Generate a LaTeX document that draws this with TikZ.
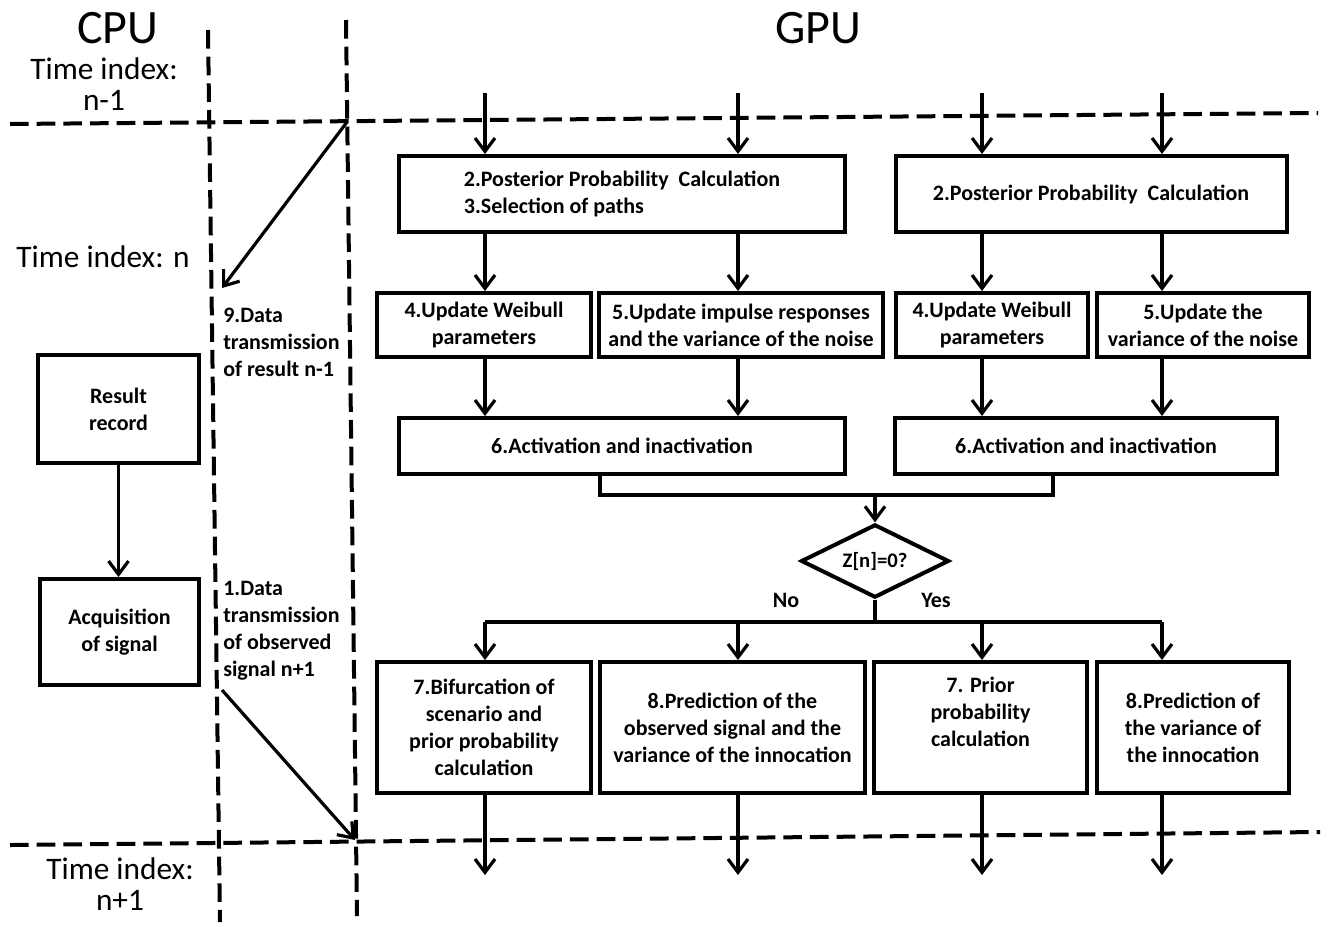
\documentclass[tikz,border=0pt]{standalone}
\usepackage{fontspec}
\setmainfont{Carlito}
\usepackage{tikz}
\usetikzlibrary{positioning,shapes.geometric,arrows.meta}

\begin{document}
\begin{tikzpicture}[x=0.75pt,y=0.75pt,yscale=-1,xscale=1,
  box/.style={draw,line width=3pt,font=\bfseries\fontsize{16.5}{20.25}\selectfont,align=center,inner sep=2pt},
  arr/.style={line width=2.4pt,-{Straight Barb[length=10pt,width=15pt]}},
  wire/.style={line width=2.4pt},
  timeline/.style={line width=3pt,dash pattern=on 14pt off 6pt},
  big/.style={font=\fontsize{36}{40}\selectfont},
  tindex/.style={font=\fontsize{23.5}{26}\selectfont,inner sep=0pt,anchor=base},
  note/.style={font=\bfseries\fontsize{16.5}{20.25}\selectfont,align=left,anchor=west,inner sep=0pt}
]
%set diagram left start at 0, and has height of 926
\useasboundingbox (0,0) rectangle (1328,926);

%Shape: Dashed time lines
\draw [timeline] (10,124) -- (1318,113) ;
\draw [timeline] (10,845) -- (1320,832) ;
\draw [timeline] (208,30) -- (220,922) ;
\draw [timeline] (346,20) -- (357,916) ;

% Text Node
\node [big] (cpu) at (118,28) {CPU};
% Text Node
\node [big] (gpu) at (818,28) {GPU};
% Text Node
\node [tindex] (tprev) at (104,79) {Time index:};
\node [tindex] (tprevn) at (104,110) {n-1};
% Text Node
\node [tindex] (tcur) at (103,267) {Time index: n};
% Text Node
\node [tindex] (tnext) at (120,879) {Time index:};
\node [tindex] (tnextn) at (120,910) {n+1};

%Shape: Rectangle (CPU side)
\node [box,minimum width=120.75pt,minimum height=81pt] (res) at (118.5,409) {Result\\record};
%Shape: Rectangle
\node [box,minimum width=119.25pt,minimum height=79.5pt] (acq) at (119.5,632) {Acquisition\\of signal};

% Text Node
\node [note] (tx9) at (223,342) {9.Data\\transmission\\of result n-1};
% Text Node
\node [note] (tx1) at (223,630.5) {1.Data\\transmission\\of observed\\signal n+1};

%Shape: Rectangle (GPU, first row)
\node [box,align=left,minimum width=334.5pt,minimum height=57pt] (pa) at (622,194) {2.Posterior Probability\ \ Calculation\\3.Selection of paths};
%Shape: Rectangle
\node [box,minimum width=293.25pt,minimum height=57pt] (pb) at (1091,194) {2.Posterior Probability\ \ Calculation};

%Shape: Rectangle (second row)
\node [box,minimum width=160.5pt,minimum height=48pt] (w1) at (484,325) {4.Update Weibull\\parameters};
%Shape: Rectangle
\node [box,minimum width=213pt,minimum height=48pt] (u1) at (741,325) {5.Update impulse responses\\and the variance of the noise};
%Shape: Rectangle
\node [box,minimum width=144pt,minimum height=48pt] (w2) at (992,325) {4.Update Weibull\\parameters};
%Shape: Rectangle
\node [box,minimum width=159pt,minimum height=48pt] (u2) at (1203,325) {5.Update the\\variance of the noise};

%Shape: Rectangle (third row)
\node [box,minimum width=334.5pt,minimum height=42pt] (a1) at (622,446) {6.Activation and inactivation};
%Shape: Rectangle
\node [box,minimum width=286.5pt,minimum height=42pt] (a2) at (1086,446) {6.Activation and inactivation};

%Shape: Diamond
\node [draw,diamond,aspect=2,line width=3pt,minimum width=111pt,minimum height=55pt,inner sep=0pt,font=\bfseries\fontsize{15.5}{18}\selectfont] (dz) at (875,561) {Z[n]=0?};
% Text Node
\node [font=\bfseries\fontsize{16.5}{20}\selectfont] (no) at (786,600) {No};
% Text Node
\node [font=\bfseries\fontsize{16.5}{20}\selectfont] (yes) at (936,600) {Yes};

%Shape: Rectangle (fourth row)
\node [box,minimum width=160.5pt,minimum height=98.25pt] (b1) at (484,727.5) {7.Bifurcation of\\scenario and\\prior probability\\calculation};
%Shape: Rectangle
\node [box,minimum width=198.75pt,minimum height=98.25pt] (p1) at (732.5,727.5) {8.Prediction of the\\observed signal and the\\variance of the innocation};
%Shape: Rectangle
\node [box,minimum width=159.75pt,minimum height=98.25pt] (r2) at (980.5,727.5) {7. Prior\\probability\\calculation\\[4pt]};
%Shape: Rectangle
\node [box,minimum width=144pt,minimum height=98.25pt] (p2) at (1193,727.5) {8.Prediction of\\the variance of\\the innocation};

% arrow columns and free ends
\coordinate (t1) at (485,93);
\coordinate (t2) at (738,93);
\coordinate (t3) at (982,93);
\coordinate (t4) at (1162,93);
\coordinate (e1) at (485,875);
\coordinate (e2) at (738,875);
\coordinate (e3) at (982,875);
\coordinate (e4) at (1162,875);
\coordinate (jl) at (600,495);
\coordinate (jr) at (1053,495);
\coordinate (jn) at (875,495);
\coordinate (sp) at (875,622);
\coordinate (x1) at (347,122);
\coordinate (x2) at (222,288);
\coordinate (x3) at (222,690);
\coordinate (x4) at (355,840);

% Data transmission
\draw [arr] (x1) -- (x2) ;
\draw [arr] (x3) -- (x4) ;
\draw [arr] (res.south) -- (res.south |- acq.north) ;

% Into the first row
\draw [arr] (t1) -- (t1 |- pa.north) ;
\draw [arr] (t2) -- (t2 |- pa.north) ;
\draw [arr] (t3) -- (t3 |- pb.north) ;
\draw [arr] (t4) -- (t4 |- pb.north) ;

% First row to second row
\draw [arr] (t1 |- pa.south) -- (t1 |- w1.north) ;
\draw [arr] (t2 |- pa.south) -- (t2 |- u1.north) ;
\draw [arr] (t3 |- pb.south) -- (t3 |- w2.north) ;
\draw [arr] (t4 |- pb.south) -- (t4 |- u2.north) ;

% Second row to third row
\draw [arr] (t1 |- w1.south) -- (t1 |- a1.north) ;
\draw [arr] (t2 |- u1.south) -- (t2 |- a1.north) ;
\draw [arr] (t3 |- w2.south) -- (t3 |- a2.north) ;
\draw [arr] (t4 |- u2.south) -- (t4 |- a2.north) ;

% Join and decision
\draw [wire] (jl |- a1.south) -- (jl) -- (jr) -- (jr |- a2.south) ;
\draw [arr] (jn) -- (dz.north) ;
\draw [wire] (dz.south) -- (sp) ;
\draw [wire] (t1 |- sp) -- (t4 |- sp) ;

% Split to the fourth row
\draw [arr] (t1 |- sp) -- (t1 |- b1.north) ;
\draw [arr] (t2 |- sp) -- (t2 |- p1.north) ;
\draw [arr] (t3 |- sp) -- (t3 |- r2.north) ;
\draw [arr] (t4 |- sp) -- (t4 |- p2.north) ;

% Out of the fourth row
\draw [arr] (t1 |- b1.south) -- (e1) ;
\draw [arr] (t2 |- p1.south) -- (e2) ;
\draw [arr] (t3 |- r2.south) -- (e3) ;
\draw [arr] (t4 |- p2.south) -- (e4) ;

\end{tikzpicture}
\end{document}
